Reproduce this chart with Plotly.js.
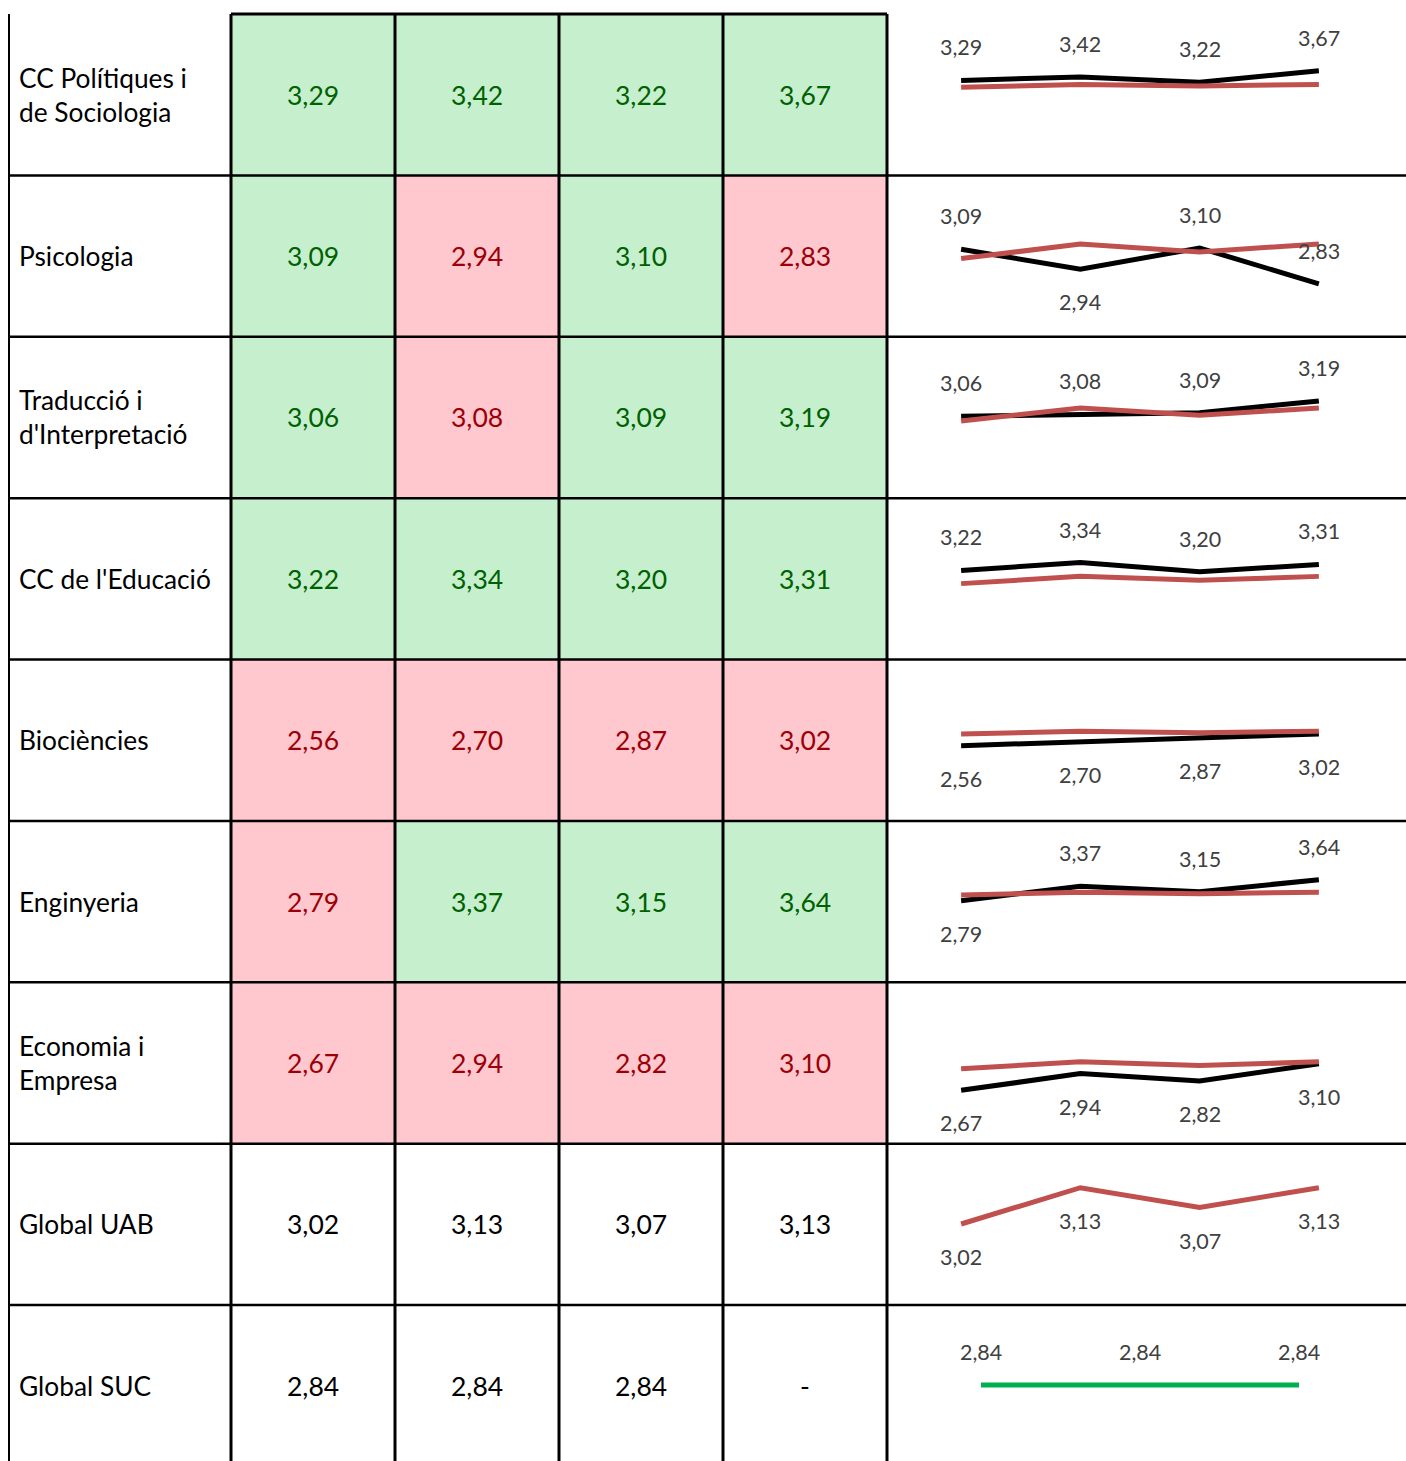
<!DOCTYPE html>
<html>
<head>
<meta charset="utf-8">
<script src="https://cdn.plot.ly/plotly-3.0.1.min.js"></script>
<style>html,body{margin:0;padding:0;background:#fff;}#chart{width:1406px;height:1461px;}</style>
</head>
<body>
<div id="chart"></div>
<script>
// ---------- DATA ----------
const rowLabels = ["CC Polítiques i<br>de Sociologia", "Psicologia", "Traducció i<br>d'Interpretació", "CC de l'Educació", "Biociències", "Enginyeria", "Economia i<br>Empresa", "Global UAB", "Global SUC"];
const polit = [3.29, 3.42, 3.22, 3.67];
const psico = [3.09, 2.94, 3.10, 2.83];
const trad  = [3.06, 3.08, 3.09, 3.19];
const educ  = [3.22, 3.34, 3.20, 3.31];
const bio   = [2.56, 2.70, 2.87, 3.02];
const eng   = [2.79, 3.37, 3.15, 3.64];
const econ  = [2.67, 2.94, 2.82, 3.10];
const globalUAB = [3.02, 3.13, 3.07, 3.13];
const globalSUC = [2.84, 2.84, 2.84, null];
const faculties = [polit, psico, trad, educ, bio, eng, econ];
// label placement of each sparkline value: a = above, b = below
const labelPos = [
  ["a","a","a","a"], ["a","b","a","a"], ["a","a","a","a"], ["a","a","a","a"],
  ["b","b","b","b"], ["b","a","a","a"], ["b","b","b","b"], ["b","b","b","b"], ["a","a","a"]
];

// ---------- LAYOUT HELPERS ----------
const W = 1406, H = 1461;
const colW = 164, col0 = 231, rowH = 161.375, row0 = 14;
const xU = px => (px - col0) / colW - 0.5;
const yU = px => (px - row0) / rowH - 0.5;
const FONT = "Lato, 'Open Sans', sans-serif";
const GREEN_BG = "#C6EFCE", RED_BG = "#FFC7CE", GREEN_TX = "#006100", RED_TX = "#9C0006";
const fmt = v => (v === null || v === undefined) ? "-" : v.toFixed(2).replace(".", ",");

// per-row sparkline y ranges (axis scale of each small chart)
const sparkRanges = [
  [-0.435, 5.893], [2.432, 3.646], [2.367, 3.734], [1.870, 4.316],
  [-0.400, 5.953], [-0.513, 6.020], [1.809, 4.416], [2.7746, 3.2636], [0.94, 4.84]
];

// ---------- TABLE (heatmap cells) ----------
const allRows = faculties.concat([globalUAB, globalSUC]);
const z = [], annotations = [];
allRows.forEach((vals, i) => {
  const zr = [];
  for (let j = 0; j < 4; j++) {
    const v = vals[j];
    let cat = 0, color = "#000000";
    if (i < faculties.length) {
      if (v > globalUAB[j]) { cat = 1; color = GREEN_TX; } else { cat = 2; color = RED_TX; }
    }
    zr.push(cat);
    annotations.push({xref: "x", yref: "y", x: j, y: i, text: fmt(v), showarrow: false,
      font: {family: FONT, size: 26.5, color: color}, xanchor: "center", yanchor: "middle"});
  }
  z.push(zr);
  annotations.push({xref: "x", yref: "y", x: xU(17), y: i, text: rowLabels[i], showarrow: false,
    align: "left", xanchor: "left", yanchor: "middle", font: {family: FONT, size: 26.3, color: "#000000"}});
});

const traces = [{
  type: "heatmap", x: [0, 1, 2, 3], y: allRows.map((_, i) => i), z: z, zmin: 0, zmax: 2,
  colorscale: [[0, "#FFFFFF"], [0.25, "#FFFFFF"], [0.25, GREEN_BG], [0.75, GREEN_BG], [0.75, RED_BG], [1, RED_BG]],
  showscale: false, hoverinfo: "skip", xaxis: "x", yaxis: "y"
}];

// ---------- GRID LINES ----------
const shapes = [];
const xLeft = xU(9), xRight = xU(W), yBottom = yU(H);
for (let i = 1; i < allRows.length; i++) {
  shapes.push({type: "line", xref: "x", yref: "y", x0: xLeft, x1: xRight, y0: i - 0.5, y1: i - 0.5, line: {color: "#000", width: 2.5}});
}
for (let j = 0; j <= 4; j++) {
  shapes.push({type: "line", xref: "x", yref: "y", x0: j - 0.5, x1: j - 0.5, y0: -0.5, y1: yBottom, line: {color: "#000", width: 3}});
}
shapes.push({type: "line", xref: "x", yref: "y", x0: xLeft, x1: xLeft, y0: -0.5, y1: yBottom, line: {color: "#000", width: 2}});
shapes.push({type: "line", xref: "x", yref: "y", x0: -0.5, x1: 3.5, y0: -0.5, y1: -0.5, line: {color: "#000", width: 3}});

// ---------- LAYOUT ----------
const layout = {
  width: W, height: H, margin: {l: 0, r: 0, t: 0, b: 0}, showlegend: false,
  paper_bgcolor: "#fff", plot_bgcolor: "rgba(0,0,0,0)",
  xaxis: {domain: [0, 1], range: [xU(0), xU(W)], visible: false, fixedrange: true},
  yaxis: {domain: [0, 1], range: [yU(H), yU(0)], visible: false, fixedrange: true},
  shapes: shapes, annotations: annotations
};

const sparkX0 = 901.5 / W, sparkX1 = 1378.5 / W;
const addLine = (k, vals, color, width) => {
  const pts = vals.filter(v => v !== null);
  traces.push({type: "scatter", mode: "lines", x: pts.map((_, j) => j), y: pts,
    line: {color: color, width: width}, hoverinfo: "skip", xaxis: "x" + k, yaxis: "y" + k});
};
const addLabels = (k, i, vals) => {
  vals.filter(v => v !== null).forEach((v, j) => {
    annotations.push({xref: "x" + k, yref: "y" + k, x: j, y: v, text: fmt(v), showarrow: false,
      xanchor: "center", yanchor: "middle", yshift: labelPos[i][j] === "a" ? 33 : -33,
      font: {family: FONT, size: 21.5, color: "#404040"}});
  });
};

allRows.forEach((vals, i) => {
  const k = i + 2;
  const topPx = row0 + i * rowH, botPx = Math.min(H, topPx + rowH);
  const n = vals.filter(v => v !== null).length;
  layout["xaxis" + k] = {domain: [sparkX0, sparkX1], range: [-0.5, n - 0.5], anchor: "y" + k, visible: false, fixedrange: true};
  layout["yaxis" + k] = {domain: [1 - botPx / H, 1 - topPx / H], range: sparkRanges[i], anchor: "x" + k, visible: false, fixedrange: true};
  if (i < faculties.length) {
    addLine(k, vals, "#000000", 5);
    addLine(k, globalUAB, "#C0504D", 5);
    addLabels(k, i, vals);
  } else if (i === faculties.length) {
    addLine(k, globalUAB, "#C0504D", 5);
    addLabels(k, i, globalUAB);
  } else {
    addLine(k, vals, "#00B050", 5);
    addLabels(k, i, vals);
  }
});

Plotly.newPlot("chart", traces, layout, {staticPlot: true, displayModeBar: false});
</script>
</body>
</html>
